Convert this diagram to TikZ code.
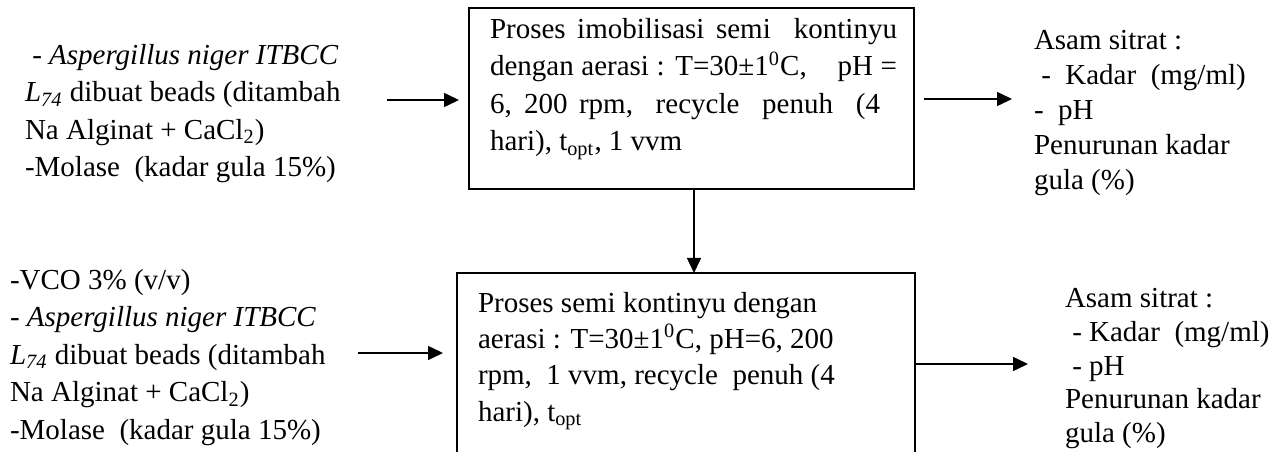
\documentclass[tikz,border=0pt]{standalone}
\usepackage{fontspec}
\setmainfont{Liberation Serif}
\usetikzlibrary{arrows.meta}

\begin{document}
\begin{tikzpicture}[x=0.4pt, y=-0.4pt,
  every node/.style={inner sep=0pt, outer sep=0pt,
    font=\fontsize{11.6pt}{15pt}\selectfont},
  % a multi-line node is placed by the baseline of its last line
  txt/.style={anchor=base west, align=left},
  procbox/.style={draw, line width=0.7pt, rectangle, anchor=north west},
  arr/.style={line width=0.6pt, -{Triangle[length=6pt, width=5.6pt]}}
]
\useasboundingbox (0,0) rectangle (1284,452);
\clip (0,0) rectangle (1284,452);

% process boxes
\node[procbox, minimum width=178pt, minimum height=72.4pt] (topbox) at (469,8) {};
\node[procbox, minimum width=183.2pt, minimum height=120pt] (botbox) at (457,273) {};

% texts inside the boxes (first lines justified)
\node[txt] (toptext) at (490,151) {%
  \makebox[162.8pt][s]{Proses imobilisasi semi\ \ kontinyu}\\
  \makebox[162.8pt][s]{dengan aerasi : T=30±1\textsuperscript{0}C,\ \ \ \ pH =}\\
  \makebox[156pt][s]{6, 200 rpm,\ \ recycle\ \ penuh\ \ (4}\\
  hari), t\textsubscript{opt}, 1 vvm};
\node[txt, font=\fontsize{11.6pt}{14.5pt}\selectfont] (bottext) at (478,421) {%
  Proses semi kontinyu dengan\\
  aerasi : T=30±1\textsuperscript{0}C, pH=6, 200\\
  rpm,\ \ 1 vvm, recycle\ \ penuh (4\\
  hari), t\textsubscript{opt}};

% inputs
\node[txt] (inA) at (25,177) {%
  \hspace*{2.9pt}- \textit{Aspergillus niger ITBCC}\\
  \textit{L\textsubscript{74}} dibuat beads (ditambah\\
  Na Alginat + CaCl\textsubscript{2})\\
  -Molase\ \ (kadar gula 15\%)};
\node[txt] (inB) at (10,439) {%
  -VCO 3\% (v/v)\\
  - \textit{Aspergillus niger ITBCC}\\
  \textit{L\textsubscript{74}} dibuat beads (ditambah\\
  Na Alginat + CaCl\textsubscript{2})\\
  -Molase\ \ (kadar gula 15\%)};

% outputs
\node[txt, font=\fontsize{11.6pt}{14pt}\selectfont] (outA) at (1034,190) {%
  Asam sitrat :\\
  \hspace*{2.9pt}-\ \ Kadar\ \ (mg/ml)\\
  -\ \ pH\\
  Penurunan kadar\\
  gula (\%)};
\node[txt, font=\fontsize{11.6pt}{13.4pt}\selectfont] (outB) at (1065,442) {%
  Asam sitrat :\\
  \hspace*{2.9pt}- Kadar\ \ (mg/ml)\\
  \hspace*{2.9pt}- pH\\
  Penurunan kadar\\
  gula (\%)};

% connectors
\coordinate (inAend) at (387,100);
\coordinate (outAend) at (1012,99);
\coordinate (inBend) at (358,353);
\coordinate (outBend) at (1028,364);
\coordinate (vx) at (694,0);

\draw[arr, shorten >=4pt] (inAend) -- (inAend -| topbox.west);
\draw[arr, shorten <=4pt] (outAend -| topbox.east) -- (outAend);
\draw[arr] (vx |- topbox.south) -- (vx |- botbox.north);
\draw[arr, shorten >=5.6pt] (inBend) -- (inBend -| botbox.west);
\draw[arr] (outBend -| botbox.east) -- (outBend);
\end{tikzpicture}
\end{document}
